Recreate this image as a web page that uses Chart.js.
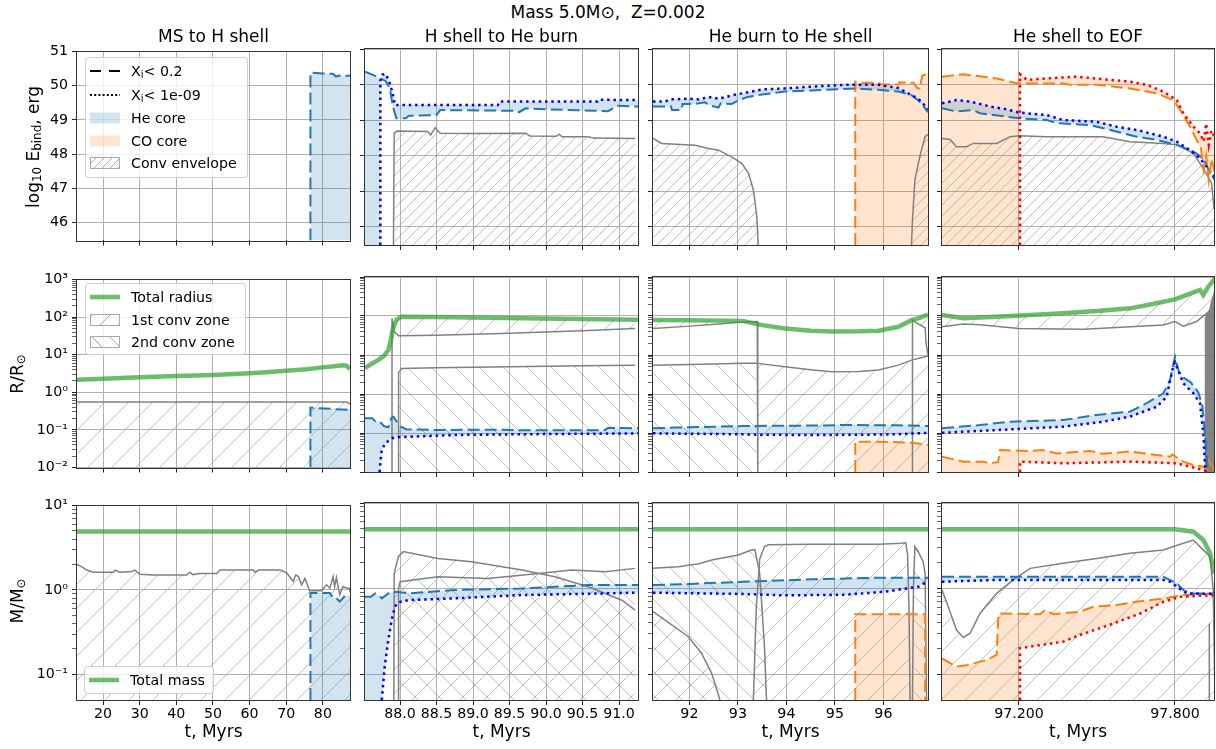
<!DOCTYPE html>
<html><head><meta charset="utf-8">
<script src="https://cdn.jsdelivr.net/npm/chart.js@4.4.1/dist/chart.umd.min.js"></script>
<style>
html,body{margin:0;padding:0;background:#fff}
body{width:1216px;height:749px;position:relative;overflow:hidden;font-family:"DejaVu Sans",sans-serif;color:#000}
canvas{position:absolute}
.txt{position:absolute;white-space:pre;transform:translate(-50%,-50%);line-height:1}
.ylab{position:absolute;white-space:nowrap;transform:translate(-50%,-50%) rotate(-90deg);line-height:1;font-size:17px}
.leg{position:absolute;background:rgba(255,255,255,0.8);border:1px solid rgba(204,204,204,0.9);border-radius:4px;box-sizing:border-box;font-size:14.2px}
.li{position:absolute;left:0;width:100%;height:20px;line-height:20px;white-space:nowrap}
.li svg{position:absolute;left:3px;top:4px}
.li span{position:absolute;left:45px;top:0}
sub{font-size:70%;vertical-align:-0.22em;line-height:0}
</style>
</head><body>
<script>
// ================= DATA =================
const X_RANGE = [[12.9,87.4],[87.52,91.26],[91.25,96.92],[96.904,97.95]];
const X_TICKS = [[20,30,40,50,60,70,80],[88,88.5,89,89.5,90,90.5,91],[92,93,94,95,96],[97.2,97.8]];
const X_DECIMALS = [0,1,0,3];
const Y_RANGE = [[45.48,51],[0.01,1000],[0.0497,10]];
const Y_TICKS_EBIND = [46,47,48,49,50,51];
const Y_MAJOR_R = [0.01,0.1,1,10,100,1000];
const Y_MAJOR_M = [0.1,1,10];
const COL_TITLES = ['MS to H shell','H shell to He burn','He burn to He shell','He shell to EOF'];

// ---- Row 1: log10 E_bind [erg]
const EB_C1_HE_DASH = [[76.6,45.48],[76.6,50.38],[80.0,50.36],[82.7,50.35],[83.6,50.27],[84.5,50.3],[85.5,50.28],[87.4,50.3]];

const EB_C2_HE_DASH = [[87.52,50.36],[87.62,50.28],[87.72,50.18],[87.8,50.1],[87.86,49.9],[87.9,49.4],[87.95,49.05],[88.08,49.05],[88.12,49.12],[88.5,49.14],[88.55,49.28],[89.6,49.26],[89.63,49.22],[89.72,49.33],[90.0,49.3],[90.85,49.25],[90.98,49.4],[91.26,49.38]];
const EB_C2_HE_DOT = [[87.73,45.48],[87.73,50.1],[87.76,50.28],[87.8,50.3],[87.85,50.1],[87.9,49.75],[87.93,49.42],[89.34,49.42],[89.36,49.52],[90.71,49.52],[90.73,49.57],[91.26,49.56]];
const EB_C2_ENV = [[87.91,45.48],[87.92,48.63],[87.96,48.69],[88.38,48.68],[88.42,48.58],[88.48,48.78],[88.55,48.63],[89.0,48.62],[89.72,48.63],[89.78,48.55],[90.14,48.54],[90.18,48.6],[90.22,48.53],[90.58,48.53],[90.65,48.49],[91.22,48.48]];

const EB_C3_HE_DASH = [[91.25,49.38],[91.62,49.38],[91.64,49.28],[91.84,49.28],[91.86,49.45],[92.1,49.45],[92.32,49.5],[92.4,49.42],[92.6,49.35],[92.65,49.47],[92.87,49.45],[93.0,49.55],[93.2,49.65],[93.5,49.72],[93.97,49.8],[94.5,49.83],[94.93,49.86],[95.41,49.89],[95.9,49.85],[96.31,49.8],[96.58,49.7],[96.72,49.55],[96.79,49.45],[96.92,49.22]];
const EB_C3_HE_DOT = [[91.25,49.52],[91.5,49.52],[91.6,49.58],[92.0,49.6],[92.2,49.58],[92.4,49.65],[92.6,49.6],[92.9,49.7],[93.2,49.78],[93.5,49.86],[93.97,49.89],[94.5,49.94],[95.2,49.99],[95.9,49.99],[96.31,49.9],[96.58,49.7],[96.72,49.6],[96.86,49.4],[96.92,49.3]];
const EB_C3_CO_DASH = [[95.42,45.48],[95.42,50.08],[95.45,50.05],[95.9,50.05],[95.95,50.0],[96.31,50.0],[96.33,50.06],[96.62,50.05],[96.7,49.9],[96.75,49.88],[96.8,50.25],[96.92,50.3]];
const EB_C3_ENV_A = [[91.25,48.48],[91.43,48.34],[92.12,48.29],[92.4,48.2],[92.6,48.15],[92.87,47.96],[93.08,47.78],[93.22,47.5],[93.32,47.03],[93.39,46.28],[93.42,45.48]];
const EB_C3_ENV_B = [[96.58,45.48],[96.6,46.2],[96.65,47.31],[96.75,47.97],[96.86,48.53],[96.92,48.6]];

const EB_C4_CO_DASH = [[96.904,50.22],[96.986,50.29],[97.063,50.22],[97.114,50.17],[97.166,50.08],[97.2,50.03],[97.37,50.03],[97.4,49.99],[97.5,49.99],[97.627,49.89],[97.73,49.75],[97.794,49.56],[97.82,49.28],[97.858,48.81],[97.883,48.44],[97.9,48.2],[97.91,47.6],[97.92,48.0],[97.93,47.3],[97.94,47.9],[97.954,47.5]];
const EB_C4_CO_DOT = [[97.204,45.48],[97.204,50.29],[97.23,50.13],[97.307,50.17],[97.422,50.22],[97.55,50.13],[97.627,50.08],[97.691,49.99],[97.755,49.8],[97.807,49.56],[97.832,49.19],[97.871,48.81],[97.896,48.63],[97.91,48.4],[97.92,48.9],[97.93,48.3],[97.94,48.7],[97.954,48.5]];
const EB_C4_HE_DASH = [[96.904,49.33],[96.96,49.24],[97.024,49.28],[97.05,49.19],[97.2,49.05],[97.307,49.0],[97.345,48.91],[97.473,48.86],[97.524,48.77],[97.653,48.53],[97.73,48.44],[97.807,48.3],[97.871,48.11],[97.909,47.92],[97.935,47.5],[97.954,47.3]];
const EB_C4_HE_DOT = [[96.904,49.47],[96.96,49.56],[97.012,49.52],[97.089,49.38],[97.153,49.3],[97.2,49.21],[97.307,49.14],[97.37,49.0],[97.499,48.95],[97.576,48.81],[97.653,48.72],[97.755,48.53],[97.807,48.39],[97.858,48.15],[97.896,47.92],[97.942,47.5],[97.954,47.4]];
const EB_C4_ENV = [[96.904,48.48],[96.935,48.45],[96.96,48.25],[96.999,48.25],[97.024,48.34],[97.114,48.34],[97.166,48.53],[97.2,48.56],[97.307,48.53],[97.524,48.53],[97.627,48.39],[97.755,48.34],[97.807,48.3],[97.871,48.06],[97.896,47.78],[97.922,47.47],[97.941,47.22],[97.95,46.5],[97.954,45.48]];

// ---- Row 2: R / R_sun
const R_C1_TOTAL = [[12.9,2.15],[20,2.3],[30.1,2.52],[40,2.7],[50.1,2.9],[60,3.2],[64.6,3.4],[70,3.75],[75.5,4.1],[80,4.6],[85.5,5.2],[86.5,5.1],[87.2,4.3],[87.4,4.2]];
const R_C1_CONV1 = [[12.9,0.555],[85.0,0.555],[86.6,0.55],[87.2,0.5],[87.4,0.48]];
const R_C1_HE_DASH = [[76.6,0.01],[76.6,0.39],[82.7,0.36],[87.4,0.34]];

const R_C2_TOTAL = [[87.52,4.6],[87.6,5.8],[87.7,7.4],[87.78,9.5],[87.84,13.4],[87.87,22],[87.9,45],[87.95,80],[88.02,95],[88.75,93],[89.67,88],[91.26,80]];
const R_C2_CONV1 = [[87.89,0.01],[87.89,87],[87.92,40],[87.98,31],[88.5,32],[89.5,36],[90.5,42],[91.22,48]];
const R_C2_CONV2 = [[87.975,0.01],[87.98,3.5],[88.02,4.5],[88.5,4.7],[89.5,5.0],[90.5,5.3],[91.22,5.5]];
const R_C2_HE_DASH = [[87.52,0.24],[87.62,0.24],[87.66,0.2],[87.72,0.2],[87.78,0.15],[87.84,0.14],[87.88,0.24],[87.91,0.26],[87.95,0.2],[88.0,0.15],[88.08,0.125],[88.5,0.119],[89.3,0.122],[89.6,0.118],[90.8,0.118],[90.85,0.135],[91.26,0.132]];
const R_C2_HE_DOT = [[87.72,0.01],[87.735,0.02],[87.75,0.037],[87.8,0.055],[87.886,0.073],[87.95,0.078],[88.75,0.089],[89.7,0.093],[91.26,0.098]];

const R_C3_TOTAL = [[91.25,79],[92.0,78],[93.1,75],[93.44,60],[93.97,48],[94.5,42],[94.93,40],[95.5,40.5],[95.9,42],[96.31,53],[96.58,78],[96.75,90],[96.92,108]];
const R_C3_CONV1_A = [[91.25,48],[92.0,55],[92.6,62],[93.1,70],[93.4,72],[93.41,0.01]];
const R_C3_CONV2_A = [[91.25,5.5],[92.5,5.9],[93.1,6.1],[93.41,6.1]];
const R_C3_CONV1_B = [[93.41,6.1],[93.97,5.0],[94.5,4.2],[94.93,3.74],[95.5,3.8],[95.9,4.1],[96.31,5.5],[96.58,7.4],[96.86,9.0],[96.92,9.5]];
const R_C3_CONV1_C = [[96.6,0.01],[96.6,78],[96.7,65],[96.86,50],[96.88,20],[96.92,10]];
const R_C3_HE_DASH = [[91.25,0.132],[91.7,0.138],[92.5,0.145],[93.1,0.151],[94.5,0.155],[95.21,0.16],[96.3,0.158],[96.92,0.151]];
const R_C3_HE_DOT = [[91.25,0.098],[93.0,0.093],[93.5,0.09],[94.5,0.089],[95.5,0.09],[96.3,0.093],[96.92,0.101]];
const R_C3_CO_DASH = [[95.42,0.01],[95.42,0.06],[95.9,0.06],[96.31,0.058],[96.58,0.056],[96.75,0.053],[96.92,0.049]];

const R_C4_TOTAL = [[96.904,106],[96.986,88],[97.114,96],[97.37,117],[97.5,135],[97.627,157],[97.7,195],[97.8,267],[97.896,464],[97.909,346],[97.928,565],[97.954,924]];
const R_C4_CONV1 = [[96.904,53],[96.986,62],[97.05,60],[97.2,48],[97.45,45.5],[97.755,59],[97.8,72],[97.832,55],[97.883,72],[97.922,117],[97.954,180]];
const R_C4_CONV_MANY = [[97.913,0.01],[97.914,90],[97.93,140],[97.942,300],[97.95,420]];
const R_C4_HE_DASH = [[96.904,0.132],[97.05,0.16],[97.166,0.195],[97.37,0.215],[97.499,0.29],[97.627,0.352],[97.691,0.58],[97.755,1.04],[97.781,2.3],[97.8,9.1],[97.813,4.1],[97.826,2.8],[97.86,2.0],[97.89,1.1],[97.905,0.5],[97.915,0.1],[97.925,0.012]];
const R_C4_HE_DOT = [[96.904,0.101],[97.114,0.119],[97.37,0.145],[97.524,0.195],[97.627,0.263],[97.73,0.473],[97.768,0.855],[97.794,5.5],[97.8,6.5],[97.832,1.88],[97.871,1.04],[97.896,0.577],[97.909,0.098],[97.915,0.0167],[97.918,0.01]];
const R_C4_CO_DASH = [[96.904,0.0247],[96.95,0.021],[96.986,0.0184],[97.063,0.0184],[97.089,0.0167],[97.12,0.018],[97.127,0.0366],[97.243,0.0345],[97.294,0.0366],[97.345,0.03],[97.473,0.0345],[97.524,0.0293],[97.627,0.0335],[97.781,0.0247],[97.79,0.028],[97.832,0.0184],[97.871,0.015],[97.909,0.0137],[97.92,0.012],[97.93,0.02],[97.954,0.01]];
const R_C4_CO_DOT = [[97.204,0.01],[97.204,0.0184],[97.37,0.0167],[97.627,0.0184],[97.807,0.0167],[97.858,0.0137],[97.909,0.0112],[97.93,0.01]];

// ---- Row 3: M / M_sun
const M_C1_TOTAL = [[12.9,4.93],[87.4,4.93]];
const M_C1_CONV1 = [[12.9,2.0],[14.5,1.85],[15.54,1.72],[17.35,1.62],[22.8,1.62],[23.26,1.72],[24.6,1.62],[27.8,1.65],[28.7,1.72],[30.1,1.53],[33.7,1.5],[42.8,1.5],[43.7,1.62],[44.5,1.52],[46.4,1.57],[51.0,1.57],[51.9,1.72],[61.0,1.72],[61.5,1.62],[62.5,1.72],[68.3,1.72],[70.1,1.6],[71.9,1.26],[72.6,1.5],[73.3,1.45],[74.2,1.15],[75.1,1.37],[76.4,0.98],[79.6,0.98],[81.0,1.15],[81.9,1.05],[82.8,1.44],[83.2,1.1],[83.7,1.4],[84.6,0.88],[85.5,1.1],[86.5,1.05],[87.2,1.05],[87.4,0.95]];
const M_C1_HE_DASH = [[76.6,0.0497],[76.6,0.92],[81.9,0.92],[82.8,0.8],[83.7,0.8],[84.6,0.73],[85.5,0.8],[86.0,0.85],[87.4,0.85]];

const M_C2_TOTAL = [[87.52,4.93],[91.26,4.93]];
const M_C2_CONV1 = [[87.915,0.0497],[87.92,1.5],[87.977,2.36],[88.045,2.7],[88.52,2.25],[88.98,2.06],[89.67,1.65],[90.12,1.375],[90.58,1.05],[91.04,0.73],[91.22,0.56]];
const M_C2_CONV2 = [[87.975,0.0497],[87.98,1.0],[88.0,1.2],[88.52,1.375],[89.2,1.31],[89.9,1.5],[90.35,1.65],[90.81,1.57],[91.22,1.72]];
const M_C2_HE_DASH = [[87.52,0.8],[87.6,0.8],[87.66,0.877],[87.72,0.82],[87.75,0.767],[87.84,0.877],[87.95,0.918],[88.11,0.877],[88.75,0.96],[89.67,1.0],[90.58,1.1],[91.26,1.1]];
const M_C2_HE_DOT = [[87.75,0.0497],[87.79,0.122],[87.84,0.25],[87.886,0.428],[87.93,0.613],[87.977,0.69],[88.11,0.73],[88.75,0.767],[89.67,0.84],[91.26,0.894]];

const M_C3_TOTAL = [[91.25,4.93],[96.92,4.93]];
const M_C3_CONV_A = [[91.25,1.72],[91.77,1.8],[92.2,1.95],[92.46,2.15],[93.01,2.47],[93.28,2.82],[93.35,2.85],[93.45,1.5],[93.55,0.2],[93.59,0.0497]];
const M_C3_CONV_B = [[93.32,0.0497],[93.38,0.6],[93.45,2.2],[93.55,3.1],[93.63,3.25],[94.5,3.29],[95.9,3.3],[96.38,3.38],[96.46,3.45],[96.5,2.5],[96.53,0.5],[96.55,0.0497]];
const M_C3_CONV_C = [[96.6,0.0497],[96.62,1.0],[96.65,3.09],[96.72,2.7],[96.82,2.06],[96.86,1.5],[96.89,0.0497]];
const M_C3_CONV_D = [[91.25,0.536],[91.5,0.428],[91.98,0.273],[92.25,0.175],[92.46,0.102],[92.55,0.07],[92.63,0.0497]];
const M_C3_HE_DASH = [[91.25,1.1],[92.0,1.13],[93.1,1.2],[94.52,1.28],[95.9,1.34],[96.92,1.34]];
const M_C3_HE_DOT = [[91.25,0.894],[93.1,0.863],[93.97,0.832],[95.21,0.845],[96.04,0.918],[96.72,1.05],[96.86,1.17],[96.92,1.2]];
const M_C3_CO_DASH = [[95.42,0.0497],[95.42,0.5],[96.86,0.5],[96.86,0.0497]];

const M_C4_TOTAL = [[96.904,4.93],[97.8,4.93],[97.871,4.62],[97.909,3.69],[97.935,2.58],[97.95,1.5],[97.954,0.96]];
const M_C4_CONV1 = [[96.904,0.96],[96.928,0.613],[96.96,0.327],[96.986,0.268],[97.012,0.3],[97.05,0.51],[97.114,0.877],[97.178,1.26],[97.243,1.72],[97.37,1.97],[97.499,2.25],[97.627,2.58],[97.755,2.82],[97.832,3.38],[97.871,3.69],[97.896,3.09],[97.935,2.36],[97.947,0.96],[97.954,0.0497]];
const M_C4_CONV2 = [[97.932,0.0497],[97.932,0.39]];
const M_C4_HE_DASH = [[96.904,1.375],[97.755,1.375],[97.807,1.15],[97.832,0.96],[97.858,0.877],[97.954,0.877]];
const M_C4_HE_DOT = [[96.904,1.2],[97.114,1.26],[97.755,1.26],[97.781,1.2],[97.807,1.05],[97.845,0.877],[97.954,0.863]];
const M_C4_CO_DASH = [[96.904,0.152],[96.96,0.122],[96.999,0.127],[97.076,0.146],[97.114,0.167],[97.121,0.51],[97.281,0.5],[97.3,0.56],[97.333,0.5],[97.435,0.536],[97.486,0.613],[97.576,0.641],[97.653,0.701],[97.755,0.767],[97.832,0.84],[97.954,0.877]];
const M_C4_CO_DOT = [[97.204,0.0497],[97.204,0.2],[97.243,0.209],[97.37,0.239],[97.435,0.286],[97.563,0.39],[97.666,0.51],[97.755,0.7],[97.82,0.8],[97.954,0.84]];

// ================= STYLE / LAYOUT =================
const FONT = '"DejaVu Sans", sans-serif';
const GRID = '#b0b0b0';
const HATCH_COLOR = 'rgba(150,150,150,0.6)';
const C_TOTAL = 'rgba(44,160,44,0.7)';
const C_HE_FILL = 'rgba(31,119,180,0.2)';
const C_CO_FILL = 'rgba(255,127,14,0.2)';
const DASH = [12,5], DOT = [2.5,3.8];
const ST = {
  total: {borderColor:C_TOTAL, borderWidth:4.5},
  heDash: {borderColor:'#1f77b4', borderWidth:2, borderDash:DASH},
  heDot: {borderColor:'#0000ff', borderWidth:2.5, borderDash:DOT},
  coDash: {borderColor:'#ff7f0e', borderWidth:2, borderDash:DASH},
  coDot: {borderColor:'#ff0000', borderWidth:2.5, borderDash:DOT},
  env: {borderColor:'#808080', borderWidth:1.5}
};
const COLS = [{L:77,R:350},{L:365,R:638},{L:653,R:928},{L:942,R:1214}];
const ROWS = [{T:49,B:245},{T:277,B:472},{T:503,B:700}];

function hatch(step, dir){
  const c = document.createElement('canvas'); c.width = step; c.height = step;
  const g = c.getContext('2d');
  g.strokeStyle = HATCH_COLOR; g.lineWidth = 1; g.beginPath();
  if (dir === '/') {
    g.moveTo(-2, step+2); g.lineTo(step+2, -2);
    g.moveTo(-2, 2); g.lineTo(2, -2);
    g.moveTo(step-2, step+2); g.lineTo(step+2, step-2);
  } else {
    g.moveTo(-2, -2); g.lineTo(step+2, step+2);
    g.moveTo(step-2, -2); g.lineTo(step+2, 2);
    g.moveTo(-2, step-2); g.lineTo(2, step+2);
  }
  g.stroke();
  return g.createPattern(c, 'repeat');
}
const H_DENSE = hatch(11,'/');
const H_F = hatch(24,'/');
const H_B = hatch(24,'\\');

const pts = a => a.map(p => ({x:p[0], y:p[1]}));
function builder(){
  const list = [];
  const add = ds => { list.push(Object.assign({pointRadius:0, tension:0, fill:false}, ds)); return list.length-1; };
  return {
    list,
    line: (d, st) => add(Object.assign({data:pts(d)}, st)),
    bound: d => add({data:pts(d), borderWidth:0, borderColor:'rgba(0,0,0,0)'}),
    area: (d, color, target) => add({data:pts(d), borderWidth:0, borderColor:'rgba(0,0,0,0)', backgroundColor:color, fill:target})
  };
}
const padLow = (d, c, r) => [[X_RANGE[c][0], Y_RANGE[r][0]]].concat(d);

const isMajor = v => { const l = Math.log10(v); return Math.abs(l - Math.round(l)) < 1e-6; };
function logTicks(majors){
  const out = [];
  majors.forEach((m, i) => { if (i < majors.length-1) for (let k=1;k<10;k++) out.push(m*k); else out.push(m); });
  return out;
}
const SUP = {'-':'\u207B','0':'\u2070','1':'\u00B9','2':'\u00B2','3':'\u00B3'};
const pow10 = v => '10' + String(Math.round(Math.log10(v))).split('').map(ch => SUP[ch]).join('');

const framePlugin = {id:'frame', afterDatasetsDraw(chart){
  const a = chart.chartArea, ctx = chart.ctx;
  ctx.save(); ctx.strokeStyle = '#333'; ctx.lineWidth = 1; ctx.setLineDash([]);
  ctx.strokeRect(Math.round(a.left)-0.5, Math.round(a.top)-0.5, Math.round(a.right-a.left)+1, Math.round(a.bottom-a.top)+1);
  ctx.restore();
}};

function panel(r, c, list){
  const ml = c===0 ? 77 : 10, mr = c===3 ? 2 : 8, mt = 10, mb = r===2 ? 30 : 8;
  const {L,R} = COLS[c], {T,B} = ROWS[r];
  const cv = document.createElement('canvas');
  cv.width = R-L+ml+mr; cv.height = B-T+mt+mb;
  cv.style.left = (L-ml)+'px'; cv.style.top = (T-mt)+'px';
  document.body.appendChild(cv);
  const isLog = r > 0;
  const yt = r===0 ? Y_TICKS_EBIND : logTicks(r===1 ? Y_MAJOR_R : Y_MAJOR_M).filter(v => v >= Y_RANGE[r][0]*0.999);
  const datasets = list.map((d,i) => Object.assign({order:1000-i}, d));
  new Chart(cv.getContext('2d'), {
    type:'line',
    data:{datasets},
    options:{
      responsive:false, animation:false, events:[],
      layout:{padding:{left:0, top:mt, right:mr, bottom:0}},
      plugins:{legend:{display:false}, tooltip:{enabled:false}},
      scales:{
        x:{type:'linear', min:X_RANGE[c][0], max:X_RANGE[c][1],
          afterBuildTicks: s => { s.ticks = X_TICKS[c].map(v => ({value:v})); },
          afterFit: s => { s.height = mb; },
          ticks:{display:r===2, autoSkip:false, maxRotation:0, minRotation:0, padding:1, color:'#000',
                 font:{family:FONT, size:14.2}, callback: v => Number(v).toFixed(X_DECIMALS[c])},
          grid:{color:GRID, lineWidth:1, drawTicks:true, tickLength:5, tickColor:'#222', tickWidth:1},
          border:{display:false}},
        y:{type:isLog ? 'logarithmic' : 'linear', min:Y_RANGE[r][0], max:Y_RANGE[r][1],
          afterBuildTicks: s => { s.ticks = yt.map(v => ({value:v})); },
          afterFit: s => { s.width = ml; },
          ticks:{display:c===0, autoSkip:false, padding:4, color:'#000', font:{family:FONT, size:14.2},
                 callback: v => r===0 ? String(v) : (isMajor(v) ? pow10(v) : '')},
          grid:{color: ctx => (r===0 || (ctx.tick && isMajor(ctx.tick.value))) ? GRID : 'rgba(0,0,0,0)',
                lineWidth:1, drawTicks:true, tickLength:5, tickColor:'#222',
                tickWidth: ctx => (r===0 || (ctx.tick && isMajor(ctx.tick.value))) ? 1 : 0.7},
          border:{display:false}}
      }
    },
    plugins:[framePlugin]
  });
}

// ================= PANELS =================
// Row 1
(() => { const b = builder();
  b.area(EB_C1_HE_DASH, C_HE_FILL, 'start');
  b.line(EB_C1_HE_DASH, ST.heDash);
  panel(0,0,b.list); })();
(() => { const b = builder();
  b.area(EB_C2_ENV, H_DENSE, 'start');
  const lo = b.bound(padLow(EB_C2_HE_DOT,1,0));
  b.area(EB_C2_HE_DASH, C_HE_FILL, lo);
  b.line(EB_C2_ENV, ST.env);
  b.line(EB_C2_HE_DASH, ST.heDash);
  b.line(EB_C2_HE_DOT, ST.heDot);
  panel(0,1,b.list); })();
(() => { const b = builder();
  b.area(EB_C3_ENV_A, H_DENSE, 'start');
  b.area(EB_C3_ENV_B, H_DENSE, 'start');
  b.area(EB_C3_CO_DASH, C_CO_FILL, 'start');
  const lo = b.bound(EB_C3_HE_DOT);
  b.area(EB_C3_HE_DASH, C_HE_FILL, lo);
  b.line(EB_C3_ENV_A, ST.env); b.line(EB_C3_ENV_B, ST.env);
  b.line(EB_C3_CO_DASH, ST.coDash);
  b.line(EB_C3_HE_DASH, ST.heDash);
  b.line(EB_C3_HE_DOT, ST.heDot);
  panel(0,2,b.list); })();
(() => { const b = builder();
  b.area(EB_C4_ENV, H_DENSE, 'start');
  const lo = b.bound(padLow(EB_C4_CO_DOT,3,0));
  b.area(EB_C4_CO_DASH, C_CO_FILL, lo);
  const lo2 = b.bound(EB_C4_HE_DOT);
  b.area(EB_C4_HE_DASH, C_HE_FILL, lo2);
  b.line(EB_C4_ENV, ST.env);
  b.line(EB_C4_HE_DASH, ST.heDash); b.line(EB_C4_HE_DOT, ST.heDot);
  b.line(EB_C4_CO_DASH, ST.coDash); b.line(EB_C4_CO_DOT, ST.coDot);
  panel(0,3,b.list); })();
// Row 2
(() => { const b = builder();
  b.area(R_C1_CONV1, H_F, 'start');
  b.area(R_C1_HE_DASH, C_HE_FILL, 'start');
  b.line(R_C1_CONV1, ST.env);
  b.line(R_C1_HE_DASH, ST.heDash);
  b.line(R_C1_TOTAL, ST.total);
  panel(1,0,b.list); })();
(() => { const b = builder();
  const tot = b.bound(R_C2_TOTAL);
  b.area(R_C2_CONV1, H_F, tot);
  b.area(R_C2_CONV2, H_B, 'start');
  const lo = b.bound(padLow(R_C2_HE_DOT,1,1));
  b.area(R_C2_HE_DASH, C_HE_FILL, lo);
  b.line(R_C2_CONV1, ST.env); b.line(R_C2_CONV2, ST.env);
  b.line(R_C2_HE_DASH, ST.heDash); b.line(R_C2_HE_DOT, ST.heDot);
  b.line(R_C2_TOTAL, ST.total);
  panel(1,1,b.list); })();
(() => { const b = builder();
  const tot = b.bound(R_C3_TOTAL);
  b.area(R_C3_CONV1_A, H_F, tot);
  b.area(R_C3_CONV2_A, H_B, 'start');
  b.area(R_C3_CONV1_B, H_F, 'start');
  b.area(R_C3_CONV1_C, H_F, tot);
  b.area(R_C3_CO_DASH, C_CO_FILL, 'start');
  const lo = b.bound(R_C3_HE_DOT);
  b.area(R_C3_HE_DASH, C_HE_FILL, lo);
  b.line(R_C3_CONV1_A, ST.env); b.line(R_C3_CONV2_A, ST.env); b.line(R_C3_CONV1_B, ST.env); b.line(R_C3_CONV1_C, ST.env);
  b.line(R_C3_CO_DASH, ST.coDash);
  b.line(R_C3_HE_DASH, ST.heDash); b.line(R_C3_HE_DOT, ST.heDot);
  b.line(R_C3_TOTAL, ST.total);
  panel(1,2,b.list); })();
(() => { const b = builder();
  const tot = b.bound(R_C4_TOTAL);
  b.area(R_C4_CONV1, H_F, tot);
  b.area(R_C4_CONV_MANY, 'rgba(110,110,110,0.85)', 'start');
  const lo = b.bound(padLow(R_C4_CO_DOT,3,1));
  b.area(R_C4_CO_DASH, C_CO_FILL, lo);
  const lo2 = b.bound(R_C4_HE_DOT);
  b.area(R_C4_HE_DASH, C_HE_FILL, lo2);
  b.line(R_C4_CONV1, ST.env);
  b.line(R_C4_CO_DASH, ST.coDash); b.line(R_C4_CO_DOT, ST.coDot);
  b.line(R_C4_HE_DASH, ST.heDash); b.line(R_C4_HE_DOT, ST.heDot);
  b.line(R_C4_TOTAL, ST.total);
  panel(1,3,b.list); })();
// Row 3
(() => { const b = builder();
  b.area(M_C1_CONV1, H_F, 'start');
  b.area(M_C1_HE_DASH, C_HE_FILL, 'start');
  b.line(M_C1_CONV1, ST.env);
  b.line(M_C1_HE_DASH, ST.heDash);
  b.line(M_C1_TOTAL, ST.total);
  panel(2,0,b.list); })();
(() => { const b = builder();
  b.area(M_C2_CONV1, H_F, 'start');
  b.area(M_C2_CONV2, H_B, 'start');
  const lo = b.bound(padLow(M_C2_HE_DOT,1,2));
  b.area(M_C2_HE_DASH, C_HE_FILL, lo);
  b.line(M_C2_CONV1, ST.env); b.line(M_C2_CONV2, ST.env);
  b.line(M_C2_HE_DASH, ST.heDash); b.line(M_C2_HE_DOT, ST.heDot);
  b.line(M_C2_TOTAL, ST.total);
  panel(2,1,b.list); })();
(() => { const b = builder();
  b.area(M_C3_CONV_A, H_B, 'start');
  b.area(M_C3_CONV_D, H_F, 'start');
  b.area(M_C3_CONV_B, H_F, 'start');
  b.area(M_C3_CONV_C, H_B, 'start');
  b.area(M_C3_CO_DASH, C_CO_FILL, 'start');
  const lo = b.bound(M_C3_HE_DOT);
  b.area(M_C3_HE_DASH, C_HE_FILL, lo);
  b.line(M_C3_CONV_A, ST.env); b.line(M_C3_CONV_B, ST.env); b.line(M_C3_CONV_C, ST.env); b.line(M_C3_CONV_D, ST.env);
  b.line(M_C3_CO_DASH, ST.coDash);
  b.line(M_C3_HE_DASH, ST.heDash); b.line(M_C3_HE_DOT, ST.heDot);
  b.line(M_C3_TOTAL, ST.total);
  panel(2,2,b.list); })();
(() => { const b = builder();
  b.area(M_C4_CONV1, H_F, 'start');
  const lo = b.bound(padLow(M_C4_CO_DOT,3,2));
  b.area(M_C4_CO_DASH, C_CO_FILL, lo);
  const lo2 = b.bound(M_C4_HE_DOT);
  b.area(M_C4_HE_DASH, C_HE_FILL, lo2);
  b.line(M_C4_CONV1, ST.env); b.line(M_C4_CONV2, ST.env);
  b.line(M_C4_CO_DASH, ST.coDash); b.line(M_C4_CO_DOT, ST.coDot);
  b.line(M_C4_HE_DASH, ST.heDash); b.line(M_C4_HE_DOT, ST.heDot);
  b.line(M_C4_TOTAL, ST.total);
  panel(2,3,b.list); })();

// ================= TEXT =================
function addText(html, x, y, size, cls){
  const d = document.createElement('div'); d.className = cls || 'txt';
  d.style.left = x+'px'; d.style.top = y+'px'; if (size) d.style.fontSize = size+'px';
  d.innerHTML = html; document.body.appendChild(d);
}
addText('Mass 5.0M\u2299,  Z=0.002', 608, 12, 17);
COL_TITLES.forEach((t,i) => addText(t, (COLS[i].L+COLS[i].R)/2, 35.5, 17));
COLS.forEach(cc => addText('t, Myrs', (cc.L+cc.R)/2, 731, 17));
addText('log<sub>10</sub> E<sub>bind</sub>, erg', 33, 147, null, 'ylab');
addText('R/R<sub>\u2299</sub>', 17, 374, null, 'ylab');
addText('M/M<sub>\u2299</sub>', 17, 601, null, 'ylab');
</script>

<div class="leg" style="left:85px;top:57px;width:163px;height:121px">
  <div class="li" style="top:3px"><svg width="32" height="12"><line x1="1" y1="6" x2="31" y2="6" stroke="#000" stroke-width="2" stroke-dasharray="11,8"/></svg><span>X<sub>i</sub>&lt; 0.2</span></div>
  <div class="li" style="top:27px"><svg width="32" height="12"><line x1="1" y1="6" x2="31" y2="6" stroke="#000" stroke-width="2" stroke-dasharray="2,2.2"/></svg><span>X<sub>i</sub>&lt; 1e-09</span></div>
  <div class="li" style="top:50px"><svg width="32" height="12"><rect x="1" y="0.5" width="30" height="11" fill="rgba(31,119,180,0.2)"/></svg><span>He core</span></div>
  <div class="li" style="top:73px"><svg width="32" height="12"><rect x="1" y="0.5" width="30" height="11" fill="rgba(255,127,14,0.2)"/></svg><span>CO core</span></div>
  <div class="li" style="top:95px"><svg width="32" height="12"><defs><pattern id="pd" width="8" height="8" patternUnits="userSpaceOnUse"><path d="M-1,9 L9,-1 M-1,1 L1,-1 M7,9 L9,7" stroke="#aaa" stroke-width="1"/></pattern></defs><rect x="1.5" y="0.5" width="29" height="11" fill="url(#pd)" stroke="#aaa" stroke-width="1"/></svg><span>Conv envelope</span></div>
</div>
<div class="leg" style="left:85px;top:283px;width:161px;height:72px">
  <div class="li" style="top:3px"><svg width="32" height="12"><line x1="1" y1="6" x2="31" y2="6" stroke="rgba(44,160,44,0.7)" stroke-width="4.5"/></svg><span>Total radius</span></div>
  <div class="li" style="top:26px"><svg width="32" height="12"><defs><pattern id="pf" width="18" height="18" patternUnits="userSpaceOnUse" x="4"><path d="M-1,19 L19,-1 M-1,1 L1,-1 M17,19 L19,17" stroke="#aaa" stroke-width="1"/></pattern></defs><rect x="1.5" y="0.5" width="29" height="11" fill="url(#pf)" stroke="#aaa" stroke-width="1"/></svg><span>1st conv zone</span></div>
  <div class="li" style="top:48px"><svg width="32" height="12"><defs><pattern id="pb" width="18" height="18" patternUnits="userSpaceOnUse" x="2"><path d="M-1,-1 L19,19 M17,-1 L19,1 M-1,17 L1,19" stroke="#aaa" stroke-width="1"/></pattern></defs><rect x="1.5" y="0.5" width="29" height="11" fill="url(#pb)" stroke="#aaa" stroke-width="1"/></svg><span>2nd conv zone</span></div>
</div>
<div class="leg" style="left:84px;top:666px;width:130px;height:28px">
  <div class="li" style="top:3px"><svg width="32" height="12"><line x1="1" y1="6" x2="31" y2="6" stroke="rgba(44,160,44,0.7)" stroke-width="4.5"/></svg><span>Total mass</span></div>
</div>
</body></html>
